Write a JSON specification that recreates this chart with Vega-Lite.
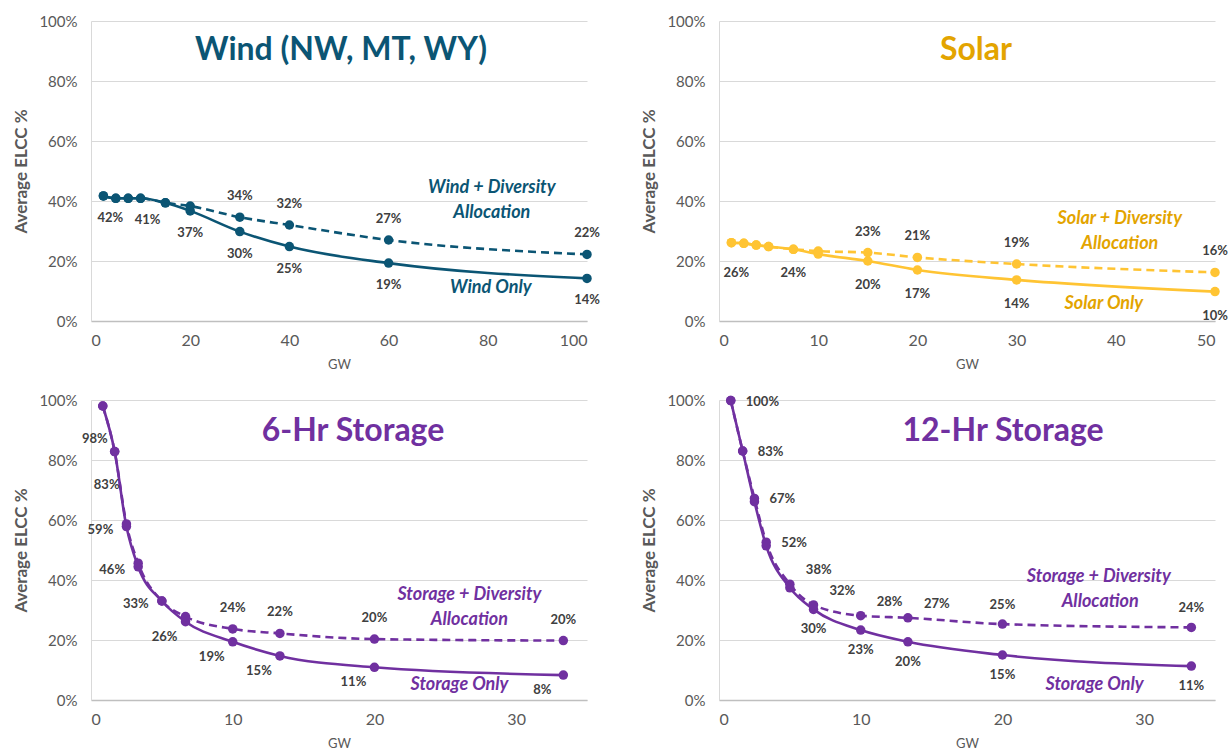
{
  "$schema": "https://vega.github.io/schema/vega-lite/v6.json",
  "padding": {"left": 12, "top": 14, "right": 0, "bottom": 2},
  "background": "white",
  "datasets": {
    "elcc": [
      {"panel": "wind", "series": "only", "gw": 2.5, "elcc": 41.7, "label": "42%"},
      {"panel": "wind", "series": "only", "gw": 5, "elcc": 40.9, "label": ""},
      {"panel": "wind", "series": "only", "gw": 7.5, "elcc": 40.9, "label": ""},
      {"panel": "wind", "series": "only", "gw": 10, "elcc": 40.9, "label": "41%"},
      {"panel": "wind", "series": "only", "gw": 15, "elcc": 39.4, "label": ""},
      {"panel": "wind", "series": "only", "gw": 20, "elcc": 36.7, "label": "37%"},
      {"panel": "wind", "series": "only", "gw": 30, "elcc": 29.8, "label": "30%"},
      {"panel": "wind", "series": "only", "gw": 40, "elcc": 24.8, "label": "25%"},
      {"panel": "wind", "series": "only", "gw": 60, "elcc": 19.3, "label": "19%"},
      {"panel": "wind", "series": "only", "gw": 100, "elcc": 14.2, "label": "14%"},
      {"panel": "wind", "series": "div", "gw": 2.5, "elcc": 41.7, "label": ""},
      {"panel": "wind", "series": "div", "gw": 5, "elcc": 40.9, "label": ""},
      {"panel": "wind", "series": "div", "gw": 7.5, "elcc": 40.9, "label": ""},
      {"panel": "wind", "series": "div", "gw": 10, "elcc": 40.9, "label": ""},
      {"panel": "wind", "series": "div", "gw": 15, "elcc": 39.4, "label": ""},
      {"panel": "wind", "series": "div", "gw": 20, "elcc": 38.3, "label": ""},
      {"panel": "wind", "series": "div", "gw": 30, "elcc": 34.6, "label": "34%"},
      {"panel": "wind", "series": "div", "gw": 40, "elcc": 32, "label": "32%"},
      {"panel": "wind", "series": "div", "gw": 60, "elcc": 27, "label": "27%"},
      {"panel": "wind", "series": "div", "gw": 100, "elcc": 22.2, "label": "22%"},

      {"panel": "solar", "series": "only", "gw": 1.25, "elcc": 26.1, "label": "26%"},
      {"panel": "solar", "series": "only", "gw": 2.5, "elcc": 25.9, "label": ""},
      {"panel": "solar", "series": "only", "gw": 3.75, "elcc": 25.3, "label": ""},
      {"panel": "solar", "series": "only", "gw": 5, "elcc": 24.8, "label": ""},
      {"panel": "solar", "series": "only", "gw": 7.5, "elcc": 23.9, "label": "24%"},
      {"panel": "solar", "series": "only", "gw": 10, "elcc": 22.3, "label": ""},
      {"panel": "solar", "series": "only", "gw": 15, "elcc": 20, "label": "20%"},
      {"panel": "solar", "series": "only", "gw": 20, "elcc": 17, "label": "17%"},
      {"panel": "solar", "series": "only", "gw": 30, "elcc": 13.7, "label": "14%"},
      {"panel": "solar", "series": "only", "gw": 50, "elcc": 9.8, "label": "10%"},
      {"panel": "solar", "series": "div", "gw": 1.25, "elcc": 26.1, "label": ""},
      {"panel": "solar", "series": "div", "gw": 2.5, "elcc": 25.9, "label": ""},
      {"panel": "solar", "series": "div", "gw": 3.75, "elcc": 25.3, "label": ""},
      {"panel": "solar", "series": "div", "gw": 5, "elcc": 24.8, "label": ""},
      {"panel": "solar", "series": "div", "gw": 7.5, "elcc": 23.9, "label": ""},
      {"panel": "solar", "series": "div", "gw": 10, "elcc": 23.3, "label": ""},
      {"panel": "solar", "series": "div", "gw": 15, "elcc": 22.8, "label": "23%"},
      {"panel": "solar", "series": "div", "gw": 20, "elcc": 21.2, "label": "21%"},
      {"panel": "solar", "series": "div", "gw": 30, "elcc": 19, "label": "19%"},
      {"panel": "solar", "series": "div", "gw": 50, "elcc": 16.2, "label": "16%"},

      {"panel": "s6", "series": "only", "gw": 0.83, "elcc": 98, "label": "98%"},
      {"panel": "s6", "series": "only", "gw": 1.67, "elcc": 82.8, "label": "83%"},
      {"panel": "s6", "series": "only", "gw": 2.5, "elcc": 57.8, "label": "59%"},
      {"panel": "s6", "series": "only", "gw": 3.33, "elcc": 44.4, "label": "46%"},
      {"panel": "s6", "series": "only", "gw": 5, "elcc": 33, "label": "33%"},
      {"panel": "s6", "series": "only", "gw": 6.67, "elcc": 26.1, "label": "26%"},
      {"panel": "s6", "series": "only", "gw": 10, "elcc": 19.4, "label": "19%"},
      {"panel": "s6", "series": "only", "gw": 13.33, "elcc": 14.7, "label": "15%"},
      {"panel": "s6", "series": "only", "gw": 20, "elcc": 10.9, "label": "11%"},
      {"panel": "s6", "series": "only", "gw": 33.33, "elcc": 8.3, "label": "8%"},
      {"panel": "s6", "series": "div", "gw": 0.83, "elcc": 98, "label": ""},
      {"panel": "s6", "series": "div", "gw": 1.67, "elcc": 82.8, "label": ""},
      {"panel": "s6", "series": "div", "gw": 2.5, "elcc": 58.7, "label": ""},
      {"panel": "s6", "series": "div", "gw": 3.33, "elcc": 45.6, "label": ""},
      {"panel": "s6", "series": "div", "gw": 5, "elcc": 33, "label": ""},
      {"panel": "s6", "series": "div", "gw": 6.67, "elcc": 27.8, "label": ""},
      {"panel": "s6", "series": "div", "gw": 10, "elcc": 23.7, "label": "24%"},
      {"panel": "s6", "series": "div", "gw": 13.33, "elcc": 22.2, "label": "22%"},
      {"panel": "s6", "series": "div", "gw": 20, "elcc": 20.3, "label": "20%"},
      {"panel": "s6", "series": "div", "gw": 33.33, "elcc": 19.8, "label": "20%"},

      {"panel": "s12", "series": "only", "gw": 0.83, "elcc": 99.8, "label": ""},
      {"panel": "s12", "series": "only", "gw": 1.67, "elcc": 83, "label": ""},
      {"panel": "s12", "series": "only", "gw": 2.5, "elcc": 66.1, "label": ""},
      {"panel": "s12", "series": "only", "gw": 3.33, "elcc": 51.4, "label": ""},
      {"panel": "s12", "series": "only", "gw": 5, "elcc": 37.4, "label": ""},
      {"panel": "s12", "series": "only", "gw": 6.67, "elcc": 30.2, "label": "30%"},
      {"panel": "s12", "series": "only", "gw": 10, "elcc": 23.3, "label": "23%"},
      {"panel": "s12", "series": "only", "gw": 13.33, "elcc": 19.4, "label": "20%"},
      {"panel": "s12", "series": "only", "gw": 20, "elcc": 15, "label": "15%"},
      {"panel": "s12", "series": "only", "gw": 33.33, "elcc": 11.3, "label": "11%"},
      {"panel": "s12", "series": "div", "gw": 0.83, "elcc": 99.8, "label": "100%"},
      {"panel": "s12", "series": "div", "gw": 1.67, "elcc": 83, "label": "83%"},
      {"panel": "s12", "series": "div", "gw": 2.5, "elcc": 67.2, "label": "67%"},
      {"panel": "s12", "series": "div", "gw": 3.33, "elcc": 52.6, "label": "52%"},
      {"panel": "s12", "series": "div", "gw": 5, "elcc": 38.6, "label": "38%"},
      {"panel": "s12", "series": "div", "gw": 6.67, "elcc": 31.7, "label": "32%"},
      {"panel": "s12", "series": "div", "gw": 10, "elcc": 28.1, "label": "28%"},
      {"panel": "s12", "series": "div", "gw": 13.33, "elcc": 27.4, "label": "27%"},
      {"panel": "s12", "series": "div", "gw": 20, "elcc": 25.3, "label": "25%"},
      {"panel": "s12", "series": "div", "gw": 33.33, "elcc": 24.2, "label": "24%"}
    ],
    "notes": [
      {"panel": "wind", "gw": 80.8, "elcc": 44.3, "text": "Wind + Diversity"},
      {"panel": "wind", "gw": 80.8, "elcc": 36, "text": "Allocation"},
      {"panel": "wind", "gw": 80.6, "elcc": 11, "text": "Wind Only"},
      {"panel": "solar", "gw": 40.4, "elcc": 34, "text": "Solar + Diversity"},
      {"panel": "solar", "gw": 40.4, "elcc": 25.7, "text": "Allocation"},
      {"panel": "solar", "gw": 38.8, "elcc": 5.7, "text": "Solar Only"},
      {"panel": "s6", "gw": 26.7, "elcc": 35, "text": "Storage + Diversity"},
      {"panel": "s6", "gw": 26.7, "elcc": 26.7, "text": "Allocation"},
      {"panel": "s6", "gw": 26, "elcc": 5, "text": "Storage Only"},
      {"panel": "s12", "gw": 26.8, "elcc": 41, "text": "Storage + Diversity"},
      {"panel": "s12", "gw": 26.9, "elcc": 32.7, "text": "Allocation"},
      {"panel": "s12", "gw": 26.5, "elcc": 5, "text": "Storage Only"}
    ]
  },
  "columns": 2,
  "spacing": {"row": 79, "column": 132},
  "bounds": "flush",
  "concat": [
    {
      "width": 496, "height": 300,
      "title": {"text": "Wind (NW, MT, WY)", "color": "#0B5574", "offset": -53, "dx": 2},
      "data": {"name": "elcc"},
      "transform": [{"filter": "datum.panel === 'wind'"}],
      "encoding": {
        "x": {"field": "gw", "type": "quantitative", "scale": {"domain": [0, 100], "nice": false}, "axis": {"values": [0, 20, 40, 60, 80, 100], "title": "GW"}},
        "y": {"field": "elcc", "type": "quantitative", "scale": {"domain": [0, 100], "nice": false}, "axis": {"values": [0, 20, 40, 60, 80, 100], "labelExpr": "datum.value + '%'", "title": "Average ELCC %"}}
      },
      "layer": [
        {"transform": [{"filter": "datum.series === 'div'"}], "mark": {"type": "line", "color": "#0B5574", "strokeWidth": 2.6, "strokeDash": [8, 5], "interpolate": "monotone"}},
        {"transform": [{"filter": "datum.series === 'only'"}], "mark": {"type": "line", "color": "#0B5574", "strokeWidth": 2.6, "interpolate": "monotone"}},
        {"mark": {"type": "circle", "color": "#0B5574", "size": 90, "opacity": 1}},
        {"transform": [{"filter": "datum.series === 'only' && datum.label !== '' && datum.gw < 12"}], "mark": {"type": "text", "dx": 7, "dy": 22, "fontSize": 13, "fontWeight": "bold", "color": "#404040"}, "encoding": {"text": {"field": "label"}}},
        {"transform": [{"filter": "datum.series === 'only' && datum.label !== '' && datum.gw >= 12"}], "mark": {"type": "text", "dy": 22, "fontSize": 13, "fontWeight": "bold", "color": "#404040"}, "encoding": {"text": {"field": "label"}}},
        {"transform": [{"filter": "datum.series === 'div' && datum.label !== ''"}], "mark": {"type": "text", "dy": -21, "fontSize": 13, "fontWeight": "bold", "color": "#404040"}, "encoding": {"text": {"field": "label"}}},
        {"data": {"name": "notes"}, "transform": [{"filter": "datum.panel === 'wind'"}], "mark": {"type": "text", "fontSize": 18, "fontWeight": "bold", "fontStyle": "italic", "color": "#0B5574"}, "encoding": {"text": {"field": "text"}}}
      ]
    },
    {
      "width": 496, "height": 300,
      "title": {"text": "Solar", "color": "#E3A400", "offset": -53, "dx": 9},
      "data": {"name": "elcc"},
      "transform": [{"filter": "datum.panel === 'solar'"}],
      "encoding": {
        "x": {"field": "gw", "type": "quantitative", "scale": {"domain": [0, 50], "nice": false}, "axis": {"values": [0, 10, 20, 30, 40, 50], "title": "GW"}},
        "y": {"field": "elcc", "type": "quantitative", "scale": {"domain": [0, 100], "nice": false}, "axis": {"values": [0, 20, 40, 60, 80, 100], "labelExpr": "datum.value + '%'", "title": "Average ELCC %"}}
      },
      "layer": [
        {"transform": [{"filter": "datum.series === 'div'"}], "mark": {"type": "line", "color": "#FFC433", "strokeWidth": 2.6, "strokeDash": [8, 5], "interpolate": "monotone"}},
        {"transform": [{"filter": "datum.series === 'only'"}], "mark": {"type": "line", "color": "#FFC433", "strokeWidth": 2.6, "interpolate": "monotone"}},
        {"mark": {"type": "circle", "color": "#FFC433", "size": 90, "opacity": 1}},
        {"transform": [{"filter": "datum.series === 'only' && datum.label !== '' && datum.gw < 2"}], "mark": {"type": "text", "dx": 5, "dy": 30, "fontSize": 13, "fontWeight": "bold", "color": "#404040"}, "encoding": {"text": {"field": "label"}}},
        {"transform": [{"filter": "datum.series === 'only' && datum.label !== '' && datum.gw >= 2"}], "mark": {"type": "text", "dy": 24, "fontSize": 13, "fontWeight": "bold", "color": "#404040"}, "encoding": {"text": {"field": "label"}}},
        {"transform": [{"filter": "datum.series === 'div' && datum.label !== ''"}], "mark": {"type": "text", "dy": -21, "fontSize": 13, "fontWeight": "bold", "color": "#404040"}, "encoding": {"text": {"field": "label"}}},
        {"data": {"name": "notes"}, "transform": [{"filter": "datum.panel === 'solar'"}], "mark": {"type": "text", "fontSize": 18, "fontWeight": "bold", "fontStyle": "italic", "color": "#E3A400"}, "encoding": {"text": {"field": "text"}}}
      ]
    },
    {
      "width": 496, "height": 300,
      "title": {"text": "6-Hr Storage", "color": "#7030A0", "offset": -55, "dx": 14},
      "data": {"name": "elcc"},
      "transform": [{"filter": "datum.panel === 's6'"}],
      "encoding": {
        "x": {"field": "gw", "type": "quantitative", "scale": {"domain": [0, 35], "nice": false}, "axis": {"values": [0, 10, 20, 30], "title": "GW"}},
        "y": {"field": "elcc", "type": "quantitative", "scale": {"domain": [0, 100], "nice": false}, "axis": {"values": [0, 20, 40, 60, 80, 100], "labelExpr": "datum.value + '%'", "title": "Average ELCC %"}}
      },
      "layer": [
        {"transform": [{"filter": "datum.series === 'div'"}], "mark": {"type": "line", "color": "#7030A0", "strokeWidth": 2.6, "strokeDash": [8, 5], "interpolate": "monotone"}},
        {"transform": [{"filter": "datum.series === 'only'"}], "mark": {"type": "line", "color": "#7030A0", "strokeWidth": 2.6, "interpolate": "monotone"}},
        {"mark": {"type": "circle", "color": "#7030A0", "size": 90, "opacity": 1}},
        {"transform": [{"filter": "datum.series === 'only' && datum.label !== '' && datum.gw < 2"}], "mark": {"type": "text", "dx": -8, "dy": 33, "fontSize": 13, "fontWeight": "bold", "color": "#404040"}, "encoding": {"text": {"field": "label"}}},
        {"transform": [{"filter": "datum.series === 'only' && datum.label !== '' && datum.gw >= 2 && datum.gw < 6"}], "mark": {"type": "text", "dx": -26, "dy": 3, "fontSize": 13, "fontWeight": "bold", "color": "#404040"}, "encoding": {"text": {"field": "label"}}},
        {"transform": [{"filter": "datum.series === 'only' && datum.label !== '' && datum.gw >= 6"}], "mark": {"type": "text", "dx": -21, "dy": 15, "fontSize": 13, "fontWeight": "bold", "color": "#404040"}, "encoding": {"text": {"field": "label"}}},
        {"transform": [{"filter": "datum.series === 'div' && datum.label !== ''"}], "mark": {"type": "text", "dy": -21, "fontSize": 13, "fontWeight": "bold", "color": "#404040"}, "encoding": {"text": {"field": "label"}}},
        {"data": {"name": "notes"}, "transform": [{"filter": "datum.panel === 's6'"}], "mark": {"type": "text", "fontSize": 18, "fontWeight": "bold", "fontStyle": "italic", "color": "#7030A0"}, "encoding": {"text": {"field": "text"}}}
      ]
    },
    {
      "width": 496, "height": 300,
      "title": {"text": "12-Hr Storage", "color": "#7030A0", "offset": -55, "dx": 36},
      "data": {"name": "elcc"},
      "transform": [{"filter": "datum.panel === 's12'"}],
      "encoding": {
        "x": {"field": "gw", "type": "quantitative", "scale": {"domain": [0, 35], "nice": false}, "axis": {"values": [0, 10, 20, 30], "title": "GW"}},
        "y": {"field": "elcc", "type": "quantitative", "scale": {"domain": [0, 100], "nice": false}, "axis": {"values": [0, 20, 40, 60, 80, 100], "labelExpr": "datum.value + '%'", "title": "Average ELCC %"}}
      },
      "layer": [
        {"transform": [{"filter": "datum.series === 'div'"}], "mark": {"type": "line", "color": "#7030A0", "strokeWidth": 2.6, "strokeDash": [8, 5], "interpolate": "monotone"}},
        {"transform": [{"filter": "datum.series === 'only'"}], "mark": {"type": "line", "color": "#7030A0", "strokeWidth": 2.6, "interpolate": "monotone"}},
        {"mark": {"type": "circle", "color": "#7030A0", "size": 90, "opacity": 1}},
        {"transform": [{"filter": "datum.series === 'div' && datum.label !== '' && datum.gw < 4"}], "mark": {"type": "text", "align": "left", "dx": 15, "dy": 1, "fontSize": 13, "fontWeight": "bold", "color": "#404040"}, "encoding": {"text": {"field": "label"}}},
        {"transform": [{"filter": "datum.series === 'div' && datum.label !== '' && datum.gw >= 4 && datum.gw < 15"}], "mark": {"type": "text", "align": "left", "dx": 16, "dy": -14, "fontSize": 13, "fontWeight": "bold", "color": "#404040"}, "encoding": {"text": {"field": "label"}}},
        {"transform": [{"filter": "datum.series === 'div' && datum.label !== '' && datum.gw >= 15"}], "mark": {"type": "text", "dy": -19, "fontSize": 13, "fontWeight": "bold", "color": "#404040"}, "encoding": {"text": {"field": "label"}}},
        {"transform": [{"filter": "datum.series === 'only' && datum.label !== ''"}], "mark": {"type": "text", "dy": 20, "fontSize": 13, "fontWeight": "bold", "color": "#404040"}, "encoding": {"text": {"field": "label"}}},
        {"data": {"name": "notes"}, "transform": [{"filter": "datum.panel === 's12'"}], "mark": {"type": "text", "fontSize": 18, "fontWeight": "bold", "fontStyle": "italic", "color": "#7030A0"}, "encoding": {"text": {"field": "text"}}}
      ]
    }
  ],
  "config": {
    "font": "Lato",
    "view": {"stroke": null},
    "text": {"font": "Lato", "baseline": "middle"},
    "title": {"font": "Lato", "fontSize": 32, "fontWeight": "bold", "anchor": "middle", "frame": "group"},
    "axis": {
      "labelFont": "Lato", "labelFontSize": 15, "labelColor": "#595959",
      "titleFont": "Lato", "titleColor": "#595959",
      "ticks": false, "domainColor": "#D9D9D9", "gridColor": "#D9D9D9", "gridWidth": 1.2
    },
    "axisX": {"grid": false, "labelFontSize": 16, "labelPadding": 11, "titleFontSize": 13, "titleFontWeight": "normal", "titlePadding": 10, "domainColor": "#BFBFBF", "domainWidth": 1.5},
    "axisY": {"grid": true, "labelPadding": 14, "titleFontSize": 17, "titleFontWeight": "bold", "titleX": -70, "titleBaseline": "middle", "titleAngle": 270, "domainColor": "#D9D9D9"}
  }
}
